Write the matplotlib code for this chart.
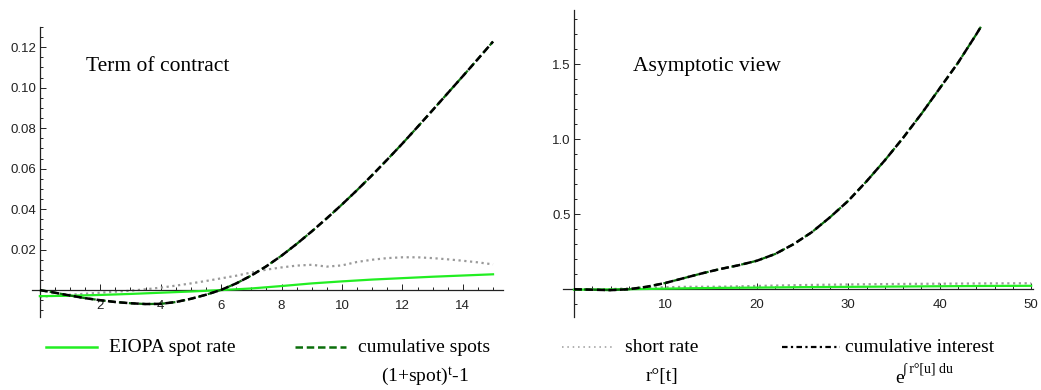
import matplotlib
matplotlib.use("Agg")
import matplotlib.pyplot as plt
from matplotlib.lines import Line2D
from matplotlib.ticker import MultipleLocator, FixedLocator, FormatStrFormatter

# ---- data: term of contract (0..15) ----
t_left = [0, 0.5, 1, 1.5, 2, 2.5, 3, 3.5, 4, 4.5, 5, 5.5, 6, 6.5, 7, 7.5,
          8, 8.5, 9, 9.5, 10, 10.5, 11, 11.5, 12, 12.5, 13, 13.5, 14, 14.5, 15]
cum_left = [0, -0.0013, -0.0027, -0.0040, -0.0050, -0.0059, -0.0065, -0.0069,
            -0.0068, -0.0059, -0.0043, -0.0023, 0.0001, 0.0033, 0.0072, 0.0118,
            0.0170, 0.0228, 0.0290, 0.0355, 0.0423, 0.0494, 0.0568, 0.0645,
            0.0724, 0.0806, 0.0889, 0.0973, 0.1057, 0.1142, 0.1228]
short_left = [-0.0033, -0.0028, -0.0023, -0.0018, -0.0013, -0.0008, -0.0003,
              0.0004, 0.0012, 0.0022, 0.0033, 0.0045, 0.0058, 0.0071, 0.0087,
              0.0101, 0.0112, 0.0121, 0.0125, 0.0116, 0.0122, 0.0139, 0.0150,
              0.0158, 0.0162, 0.0162, 0.0158, 0.0152, 0.0145, 0.0137, 0.0127]
t_spot_left = [0, 1, 2, 3, 4, 5, 6, 7, 8, 9, 10, 11, 12, 13, 14, 15]
spot_left = [-0.0030, -0.0028, -0.0024, -0.0019, -0.0013, -0.0007, 0.0000,
             0.0008, 0.0020, 0.0033, 0.0043, 0.0052, 0.0059, 0.0066, 0.0072, 0.0078]

# ---- data: asymptotic view (0..50) ----
t_cum_right = [0, 2, 4, 6, 8, 10, 12, 14, 16, 18, 20, 22, 24, 26, 28, 30,
               32, 34, 36, 38, 40, 42, 44, 44.5]
cum_right = [0, -0.003, -0.006, 0.0, 0.017, 0.042, 0.074, 0.106, 0.135, 0.16,
             0.19, 0.235, 0.30, 0.38, 0.48, 0.59, 0.72, 0.86, 1.01, 1.17,
             1.34, 1.51, 1.70, 1.75]
t_right = [0, 4, 8, 12, 16, 20, 25, 30, 35, 40, 45, 50]
short_right = [-0.003, 0.001, 0.011, 0.016, 0.017, 0.022, 0.028, 0.032,
               0.035, 0.037, 0.039, 0.040]
spot_right = [-0.003, -0.0013, 0.002, 0.006, 0.009, 0.011, 0.014, 0.016,
              0.018, 0.020, 0.022, 0.023]

GREEN = "#22ee22"
DKGREEN = "#0b6e0b"
GRAY = "#9a9a9a"

plt.rcParams["font.family"] = ["Liberation Serif", "DejaVu Serif"]
plt.rcParams["mathtext.fontset"] = "custom"
plt.rcParams["mathtext.rm"] = "Liberation Serif"
plt.rcParams["mathtext.default"] = "regular"

W, H = 1041, 390
fig = plt.figure(figsize=(W / 100, H / 100), dpi=100)


def px(x0, y0, x1, y1):
    # pixel box (from top-left) -> figure fraction rect
    return [x0 / W, 1 - y1 / H, (x1 - x0) / W, (y1 - y0) / H]


def style_axes(ax):
    for s in ["top", "right"]:
        ax.spines[s].set_visible(False)
    ax.spines["left"].set_position(("data", 0))
    ax.spines["bottom"].set_position(("data", 0))
    for s in ["left", "bottom"]:
        ax.spines[s].set_linewidth(0.9)
        ax.spines[s].set_color("#222222")
    ax.tick_params(which="both", direction="in", color="#222222", width=0.7)
    ax.tick_params(which="major", length=4.5)
    ax.tick_params(which="minor", length=2.2)
    ax.tick_params(axis="x", pad=7)
    ax.tick_params(axis="y", pad=2.5)
    for lab in ax.get_xticklabels() + ax.get_yticklabels():
        lab.set_fontfamily("Liberation Sans")
        lab.set_fontsize(9.5)
        lab.set_color("#222222")


def draw(ax, t_spot, spot, t_short, short, t_cum, cum):
    ax.plot(t_spot, spot, color=GREEN, lw=1.6, zorder=3)
    ax.plot(t_short, short, color=GRAY, lw=1.6, linestyle=(0, (1, 1.6)), zorder=2)
    ax.plot(t_cum, cum, color=DKGREEN, lw=1.6, linestyle=(0, (3, 1.5)), zorder=4)
    ax.plot(t_cum, cum, color="black", lw=1.8, linestyle=(0, (3.2, 1.4)), zorder=5)


# left panel
ax1 = fig.add_axes(px(31.7, 27, 503, 317))
draw(ax1, t_spot_left, spot_left, t_left, short_left, t_left, cum_left)
ax1.set_xlim(-0.27, 15.33)
ax1.set_ylim(-0.0133, 0.130)
ax1.xaxis.set_major_locator(FixedLocator([2, 4, 6, 8, 10, 12, 14]))
ax1.xaxis.set_minor_locator(MultipleLocator(0.5))
ax1.yaxis.set_major_locator(FixedLocator([0.02, 0.04, 0.06, 0.08, 0.10, 0.12]))
ax1.yaxis.set_minor_locator(MultipleLocator(0.005))
ax1.yaxis.set_major_formatter(FormatStrFormatter("%.2f"))
style_axes(ax1)

# right panel
ax2 = fig.add_axes(px(563, 10, 1033, 316.7))
draw(ax2, t_right, spot_right, t_right, short_right, t_cum_right, cum_right)
ax2.set_xlim(-1.2, 50.2)
ax2.set_ylim(-0.183, 1.862)
ax2.xaxis.set_major_locator(FixedLocator([10, 20, 30, 40, 50]))
ax2.xaxis.set_minor_locator(MultipleLocator(2))
ax2.yaxis.set_major_locator(FixedLocator([0.5, 1.0, 1.5]))
ax2.yaxis.set_minor_locator(MultipleLocator(0.1))
ax2.yaxis.set_major_formatter(FormatStrFormatter("%.1f"))
style_axes(ax2)

# panel captions
fig.text(86 / W, 1 - 71 / H, "Term of contract", fontsize=15.5, va="baseline")
fig.text(633 / W, 1 - 71 / H, "Asymptotic view", fontsize=15.5, va="baseline")

# legend along the bottom
row1 = 1 - 347 / H
row2 = 1 - 377 / H
handles = [
    (46, 97, dict(color=GREEN, lw=1.8)),
    (295, 346, dict(color=DKGREEN, lw=1.8, linestyle=(0, (3, 1.5)))),
    (562, 613, dict(color=GRAY, lw=1.1, linestyle=(0, (1, 2.5)))),
    (782, 840, dict(color="black", lw=1.6, linestyle=(0, (2.5, 1.5, 1, 1.5)))),
]
for x0, x1, kw in handles:
    fig.add_artist(Line2D([x0 / W, x1 / W], [row1, row1], transform=fig.transFigure, **kw))

labels = [(109, "EIOPA spot rate"), (358, "cumulative spots"),
          (625, "short rate"), (845, "cumulative interest")]
for x, s in labels:
    fig.text(x / W, row1, s, fontsize=14, va="center")

fig.text(425 / W, row2, "(1+spot)$^{t}$-1", fontsize=14, va="center", ha="center")
fig.text(662 / W, row2, "r°[t]", fontsize=14, va="center", ha="center")
fig.text(895 / W, 1 - 383 / H, "e", fontsize=14, va="baseline")
fig.text(903 / W, 1 - 372 / H, "∫ r°[u] du", fontsize=10, va="baseline")

fig.savefig("out.png", dpi=100)
